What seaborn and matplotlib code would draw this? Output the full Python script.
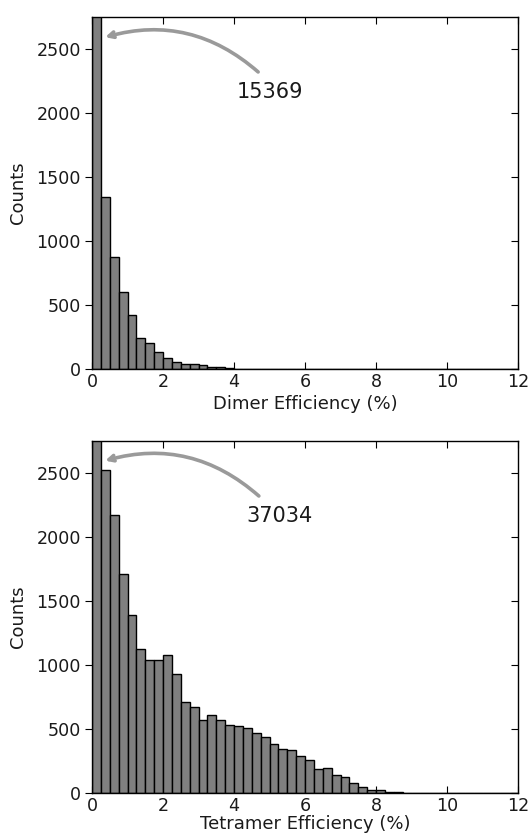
import numpy as np
import pandas as pd
import matplotlib
matplotlib.use("Agg")
import matplotlib.pyplot as plt
import seaborn as sns

# ---- data ----
bin_width = 0.25
x_max = 12
dimer_counts = [15369, 1345, 875, 604, 422, 242, 203, 135, 91, 60, 42, 42, 31, 16, 16, 8, 5]
tetramer_counts = [37034, 2523, 2172, 1709, 1392, 1121, 1035, 1035, 1077, 926, 708, 669,
                   572, 609, 572, 531, 523, 505, 463, 432, 380, 338, 330, 286, 252, 185,
                   195, 138, 122, 73, 44, 23, 21, 8, 5]
x_labels = ["Dimer Efficiency (%)", "Tetramer Efficiency (%)"]
annot_labels = ["15369", "37034"]
y_ticks = [0, 500, 1000, 1500, 2000, 2500]
x_ticks = [0, 2, 4, 6, 8, 10, 12]

edges = np.arange(0, x_max + bin_width / 2, bin_width)
n_bins = len(edges) - 1

sns.set_style("white")
plt.rcParams['font.family'] = ['DejaVu Sans']

fig = plt.figure(figsize=(5.28, 8.34), dpi=100)
ax_pos = [
    [92 / 528, 1 - 369.3 / 834, 426 / 528, 352.6 / 834],
    [92 / 528, 1 - 792.7 / 834, 426 / 528, 351.7 / 834],
]
text_x = [4.08, 4.34]
arrow_start = [(4.68, 2319), (4.70, 2320)]
arrow_tip = [(0.37, 2590), (0.37, 2596)]
xlabel_pad = [2.5, 0.3]

for i, counts in enumerate([dimer_counts, tetramer_counts]):
    full = list(counts) + [0] * (n_bins - len(counts))
    df = pd.DataFrame({"x": edges[:-1] + bin_width / 2, "w": full})
    ax = fig.add_axes(ax_pos[i])
    sns.histplot(data=df, x="x", weights="w", binwidth=bin_width, binrange=(0, x_max),
                 color="#808080", edgecolor="black", linewidth=1.0, alpha=1, ax=ax,
                 zorder=3)
    ax.set_xlim(0, x_max)
    ax.set_ylim(0, 2750)
    ax.set_xticks(x_ticks)
    ax.set_yticks(y_ticks)
    ax.set_xlabel(x_labels[i], fontsize=13, labelpad=xlabel_pad[i], color="#1a1a1a")
    ax.set_ylabel("Counts", fontsize=13, labelpad=6.5, color="#1a1a1a")
    for s in ax.spines.values():
        s.set_color("black")
        s.set_linewidth(1.0)
        s.set_zorder(4)
    ax.tick_params(axis="x", direction="in", top=True, bottom=True, length=5,
                   width=0.8, labelsize=12.6, pad=3, color="black", labelcolor="#1a1a1a")
    ax.tick_params(axis="y", direction="out", left=True, right=False, length=5,
                   width=0.8, labelsize=12.6, pad=3, color="black", labelcolor="#1a1a1a")
    ax2 = ax.twinx()
    ax2.set_ylim(0, 2750)
    ax2.set_yticks(y_ticks)
    ax2.tick_params(axis="y", direction="in", right=True, length=5, width=0.8,
                    labelright=False, color="black")
    for s in ax2.spines.values():
        s.set_visible(False)
    ax.text(text_x[i], 2163, annot_labels[i], fontsize=15, color="#1a1a1a",
            ha="left", va="center")
    ax.annotate("", xy=arrow_tip[i], xytext=arrow_start[i],
                arrowprops=dict(arrowstyle="->", color="#9a9a9a", lw=2.6,
                                shrinkA=0, shrinkB=0,
                                connectionstyle="arc3,rad=0.27"),
                zorder=5)

fig.savefig("out.png", dpi=100)
